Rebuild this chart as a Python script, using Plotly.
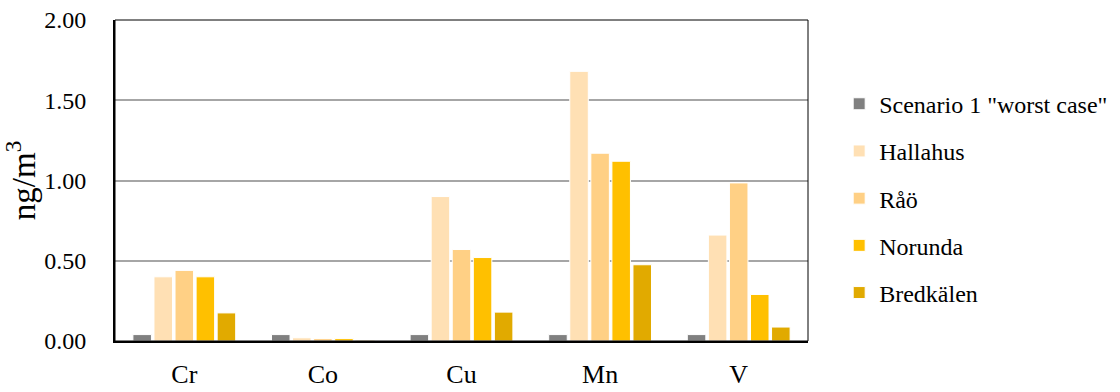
import plotly.graph_objects as go

categories = ["Cr", "Co", "Cu", "Mn", "V"]
series_names = ["Scenario 1 \"worst case\"", "Hallahus", "Råö", "Norunda", "Bredkälen"]
scenario = [0.04, 0.04, 0.04, 0.04, 0.04]
hallahus = [0.40, 0.02, 0.90, 1.68, 0.66]
raao = [0.44, 0.015, 0.57, 1.17, 0.985]
norunda = [0.40, 0.015, 0.52, 1.12, 0.29]
bredkalen = [0.175, 0.005, 0.18, 0.475, 0.087]
y_ticks = [0, 0.5, 1.0, 1.5, 2.0]
y_tick_labels = ["0.00", "0.50", "1.00", "1.50", "2.00"]

colors = ["#808080", "#FFE0B4", "#FFD085", "#FFC000", "#E1AA00"]
values = [scenario, hallahus, raao, norunda, bredkalen]

FONT = "Liberation Serif"

fig = go.Figure()
for i, (name, vals, col) in enumerate(zip(series_names, values, colors)):
    fig.add_trace(go.Bar(
        x=categories, y=vals, name=name, legendgroup=str(i),
        marker=dict(color=col, line=dict(color="white", width=1)),
    ))

fig.update_layout(
    width=1120, height=392,
    margin=dict(l=115, r=312, t=20, b=51, autoexpand=False),
    paper_bgcolor="white", plot_bgcolor="white",
    barmode="group", bargap=0.24, bargroupgap=0.12,
    font=dict(family=FONT, size=24, color="black"),
    legend=dict(x=1.045, y=0.445, xanchor="left", yanchor="middle",
                font=dict(family=FONT, size=24), tracegroupgap=13,
                itemwidth=30),
    showlegend=True,
)
fig.update_xaxes(
    showline=True, linecolor="black", linewidth=2, mirror=False,
    ticks="", ticklabelstandoff=9, tickfont=dict(size=26), automargin=False,
)
fig.update_yaxes(
    range=[0, 2.0], tickvals=y_ticks, ticktext=y_tick_labels,
    showline=True, linecolor="black", linewidth=2,
    showgrid=True, gridcolor="#A6A6A6", gridwidth=1.5,
    zeroline=False, ticks="", ticklabelstandoff=22,
    tickfont=dict(size=24), automargin=False,
    title=dict(text="ng/m<sup>3</sup>", font=dict(size=33), standoff=22),
)
fig.add_shape(type="rect", xref="paper", yref="paper", x0=0, x1=1, y0=0, y1=1,
              line=dict(color="black", width=1), layer="above")

fig.write_html("out.html", config={"displayModeBar": False},
               post_script="document.body.style.margin='0';")
